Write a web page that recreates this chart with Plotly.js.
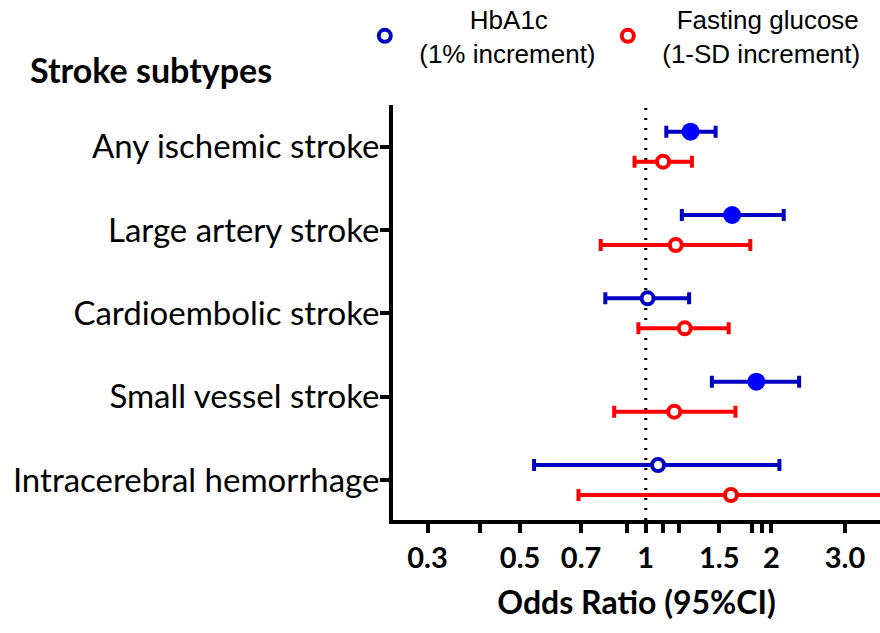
<!DOCTYPE html>
<html>
<head>
<meta charset="utf-8">
<script src="https://cdn.plot.ly/plotly-3.0.1.min.js"></script>
<style>html,body{margin:0;padding:0;background:#fff;}#chart{width:880px;height:633px;}</style>
</head>
<body>
<div id="chart"></div>
<script>
// ---- data ----
const categories = ["Any ischemic stroke", "Large artery stroke", "Cardioembolic stroke", "Small vessel stroke", "Intracerebral hemorrhage"];
const hbOR  = [1.28, 1.61, 1.01, 1.84, 1.07];
const hbLo  = [1.12, 1.22, 0.80, 1.44, 0.54];
const hbHi  = [1.47, 2.14, 1.27, 2.33, 2.09];
const hbSig = [true, true, false, true, false];
const fgOR  = [1.10, 1.18, 1.24, 1.17, 1.60];
const fgLo  = [0.94, 0.78, 0.96, 0.84, 0.69];
const fgHi  = [1.29, 1.78, 1.58, 1.64, 3.90];
const xTickVals = [0.3, 0.4, 0.5, 0.7, 0.9, 1, 1.1, 1.2, 1.5, 1.8, 1.9, 2, 3];
const xTickText = ["0.3", "", "0.5", "0.7", "", "1", "", "", "1.5", "", "", "2", "3.0"];
const NB = "\u00A0";
const legendHb = NB.repeat(9) + "HbA1c<br>" + NB.repeat(2) + "(1% increment)";
const legendFg = NB.repeat(4) + "Fasting glucose<br>" + NB.repeat(2) + "(1-SD increment)";

// ---- styling ----
const BLUE = "#0000FF", DBLUE = "#0000C0", RED = "#FF0000";
const OFF = 0.18;

function pick(arr, idx) { return idx.map(i => arr[i]); }
function trace(idx, or, lo, hi, yoff, name, showlegend, legendId, filled, col, barcol) {
  return {
    type: "scatter", mode: "markers", name: name, showlegend: showlegend, legend: legendId,
    x: pick(or, idx),
    y: idx.map(i => i + yoff),
    error_x: {
      type: "data", symmetric: false,
      array: idx.map(i => hi[i] - or[i]),
      arrayminus: idx.map(i => or[i] - lo[i]),
      color: barcol, thickness: 4, width: 6
    },
    marker: filled ? {symbol: "circle", size: 18, color: col, line: {width: 0}}
                   : {symbol: "circle", size: 12, color: "#FFFFFF", line: {width: 4, color: col}},
    hoverinfo: "x+y"
  };
}
const idxAll = categories.map((_, i) => i);
const hbOpen = idxAll.filter(i => !hbSig[i]);
const hbFill = idxAll.filter(i => hbSig[i]);

const data = [
  trace(hbOpen, hbOR, hbLo, hbHi, -OFF, legendHb, true, "legend", false, DBLUE, DBLUE),
  trace(idxAll, fgOR, fgLo, fgHi, OFF, legendFg, true, "legend2", false, RED, RED),
  trace(hbFill, hbOR, hbLo, hbHi, -OFF, legendHb, false, "legend", true, BLUE, DBLUE)
];

const L = 393, R = 0, T = 105, B = 113, W = 880, H = 633;
const pw = W - L - R, ph = H - T - B;

const legendBase = {
  orientation: "v", xref: "container", yref: "container",
  y: 1 - 36 / H, xanchor: "left", yanchor: "middle",
  font: {family: "Liberation Sans, Arial", size: 26, color: "#000"},
  valign: "middle",
  bgcolor: "rgba(0,0,0,0)", borderwidth: 0
};

const layout = {
  width: W, height: H,
  margin: {l: L, r: R, t: T, b: B, pad: 0, autoexpand: false},
  paper_bgcolor: "#fff", plot_bgcolor: "#fff",
  showlegend: true,
  legend: Object.assign({}, legendBase, {x: (384 - 19.2) / W}),
  legend2: Object.assign({}, legendBase, {x: (627 - 19.2) / W}),
  xaxis: {
    type: "log", range: [Math.log10(0.248), Math.log10(3.64)],
    tickvals: xTickVals, ticktext: xTickText,
    ticks: "outside", ticklen: 9, tickwidth: 4, tickcolor: "#000",
    showline: true, linewidth: 4, linecolor: "#000",
    showgrid: false, zeroline: false,
    tickfont: {family: "Lato", size: 29, weight: "bold", color: "#000"},
    title: {text: "Odds Ratio (95%CI)", font: {family: "Lato", size: 32, weight: "bold", color: "#000"}, standoff: 20},
    automargin: false, fixedrange: true
  },
  yaxis: {
    range: [4.48, -0.5],
    tickvals: idxAll, ticktext: categories,
    ticks: "outside", ticklen: 9, tickwidth: 4, tickcolor: "#000",
    ticklabelstandoff: -6,
    showline: true, linewidth: 4, linecolor: "#000",
    showgrid: false, zeroline: false,
    tickfont: {family: "Lato", size: 33, color: "#000"},
    automargin: false, fixedrange: true
  },
  shapes: [{
    type: "line", xref: "x", yref: "paper", x0: 1, x1: 1, y0: 0, y1: 1,
    line: {color: "#000", width: 3, dash: "2px,8px"}, layer: "below"
  }],
  annotations: [{
    text: "Stroke subtypes", showarrow: false,
    xref: "paper", yref: "paper",
    x: (28 - L) / pw, y: (H - B - 69) / ph, xanchor: "left", yanchor: "middle",
    font: {family: "Lato", size: 34, weight: "bold", color: "#000"}
  }]
};

Plotly.newPlot("chart", data, layout, {displayModeBar: false, staticPlot: true});
</script>
</body>
</html>
